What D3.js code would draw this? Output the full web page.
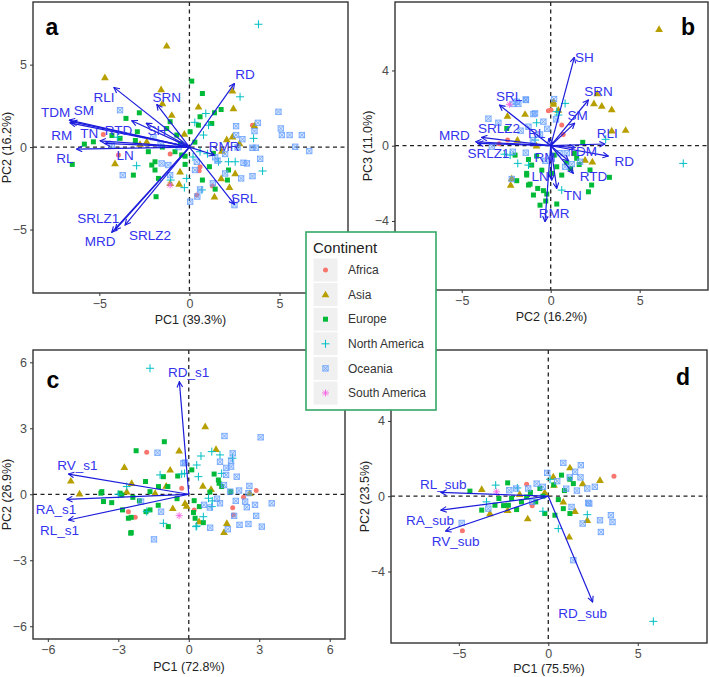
<!DOCTYPE html>
<html>
<head>
<meta charset="utf-8">
<script src="https://cdn.jsdelivr.net/npm/d3@7/dist/d3.min.js"></script>
<style>
body { margin: 0; background: #fff; }
text { font-family: "Liberation Sans", Arial, sans-serif; }
</style>
</head>
<body>
<svg id="fig" width="709" height="677"></svg>
<script>
// continents and their ggplot colours
var continents = ['Africa', 'Asia', 'Europe', 'North America', 'Oceania', 'South America'];
var contColors = ['#F8766D', '#B79F00', '#00BA38', '#00BFC4', '#619CFF', '#F564E3'];

// ---- panel a : PC1 vs PC2 ----
var aAfrica = [[-4.78,0.77],[-3.94,-0.48],[-1.07,-0.42],[0.54,-1.43],[0.41,-2.91],[1.28,-2.36],[3.5,1.33],[0.59,-1.19]];
var aAsia = [[-1.26,6.14],[-4.69,4.22],[-1.57,3.49],[-1.5,2.65],[-0.98,1.94],[0.5,2.44],[2.39,3.41],[2.44,2.34],[-0.28,0.79],[-4.13,-0.99],[-0.52,-1.49],[-1.07,-2.2],[-0.57,-2.24],[2.07,0.46],[2.39,0.63],[1.8,-0.24],[2.54,-1.6],[2.22,-2.44],[3.61,1.29],[1.39,-3.01],[-2.37,0.32],[1.76,-1.9],[2.78,0.22],[-2.74,0.18]];
var aEurope = [[0.13,4.0],[0.72,3.25],[1.76,2.28],[1.39,2.08],[1.24,1.43],[0.59,1.84],[0.5,1.33],[0.04,0.93],[-3.52,1.74],[-2.78,2.08],[-2.89,0.93],[-5.33,0.32],[-5.83,0.18],[-3.85,0.53],[-1.26,1.13],[-1.07,1.54],[-0.7,0.73],[-0.8,-0.28],[-0.43,-0.48],[-1.91,-0.89],[-2.09,-1.09],[-1.91,-1.39],[-3.11,-1.7],[-1.72,-1.9],[-1.85,-3.01],[-6.5,-1.05],[-2.28,-0.28],[1.11,-1.19],[2.17,-1.39],[2.11,-2.0],[1.43,-2.55],[0.72,-2.0],[1.33,-0.38],[-0.24,-0.55],[-0.24,-1.05],[0.3,0.3],[-0.5,0.2],[-4.3,0.7],[-3.0,0.4],[-1.5,0.0]];
var aNorthAm = [[3.83,7.45],[2.81,3.05],[0.91,2.04],[1.06,1.33],[0.78,0.73],[3.56,0.53],[4.06,-1.45],[2.54,-0.89],[2.17,-0.89],[1.61,-0.89],[0.59,-0.28],[-0.15,-1.9],[0.69,-2.6],[-2.93,-1.13],[-1.04,-2.0],[-0.28,-2.46],[0.3,1.5],[0.2,-0.6],[-4.0,0.6],[1.0,-0.4]];
var aOceania = [[-3.85,2.24],[-3.7,-1.7],[-1.17,-1.09],[-1.54,-0.99],[-1.07,-1.7],[-4.31,0.12],[2.59,1.27],[3.8,1.47],[4.94,2.14],[5.07,1.13],[5.13,0.73],[5.56,0.73],[6.24,0.73],[5.87,0.02],[6.65,-0.24],[3.93,-0.71],[3.5,-0.04],[3.69,-0.04],[2.67,-0.02],[2.59,0.73],[2.94,0.48],[3.5,-1.76],[3.0,-0.95],[3.19,-0.99],[1.98,-0.42],[1.3,-2.2],[2.5,-3.52],[0.59,-2.57],[0.04,-3.31],[0.44,-3.0],[0.41,-0.89],[0.31,-1.39],[1.98,-1.6],[2.87,-1.9],[3.61,0.97],[1.43,-0.62],[1.56,-0.82],[-1.6,0.2],[-0.6,0.0],[-2.0,0.6]];
var aSouthAm = [[-1.07,-2.3]];
var aArrowNames = ['RD','RLI','SRN','TDM','SM','RM','TN','RTD','SH','RL','LN','RMR','SRL','SRLZ1','MRD','SRLZ2'];
var aArrowTips = [[2.5,3.86],[-4.19,3.62],[-1.81,2.59],[-6.67,1.64],[-6.54,1.54],[-6.63,1.47],[-4.96,0.38],[-3.2,1.6],[-2.4,1.45],[-6.26,-0.12],[-4.7,0.22],[1.39,-0.48],[2.5,-3.47],[-4.13,-5.03],[-4.31,-5.17],[-3.57,-4.73]];
var aArrowLabels = [[3.09,4.42],[-4.74,3.01],[-1.26,3.05],[-7.43,2.14],[-5.85,2.24],[-7.09,0.73],[-5.56,0.83],[-3.94,1.03],[-1.81,1.03],[-6.91,-0.69],[-3.57,-0.48],[1.93,0.02],[3.04,-3.11],[-5.06,-4.32],[-4.96,-5.74],[-2.19,-5.33]];

// ---- panel b : PC2 vs PC3 ----
var bAfrica = [[0.02,1.9],[0.62,1.1],[-2.42,0.3],[-0.13,1.86],[-2.9,0.1],[0.7,0.6]];
var bAsia = [[6.09,6.19],[2.62,2.78],[2.43,2.25],[2.87,2.11],[3.43,1.93],[4.21,0.83],[3.43,0.8],[-2.43,1.58],[-1.44,1.68],[0.15,2.22],[0.43,1.9],[0.15,2.34],[1.93,-0.76],[2.34,-0.85],[-2.25,-2.09],[-2.19,-1.74],[-1.87,0.3],[-0.8,0.0]];
var bEurope = [[1.8,0.18],[1.46,-0.67],[2.21,-1.29],[3.3,-1.68],[2.3,-2.09],[2.12,-2.45],[-2.0,-0.5],[-1.91,-1.86],[-1.35,-1.56],[-1.07,-1.03],[-1.25,-2.09],[-0.97,-2.62],[-0.41,-2.39],[-0.22,-2.57],[-0.6,-3.16],[0.34,-3.1],[-1.25,-0.73],[-0.79,-0.55],[-1.35,-1.47],[-1.16,-2.04],[-0.73,-2.27],[-0.28,-2.94],[1.12,-1.21],[0.62,-1.56],[1.33,-0.41],[0.06,-1.47],[0.34,-1.12],[-2.47,0.92],[0.9,-0.9],[1.6,-1.0],[-0.5,-1.3],[0.2,-0.5]];
var bNorthAm = [[7.45,-0.94],[-1.85,-0.94],[-2.28,-0.5],[0.62,-2.36],[-0.88,0.3],[-0.79,1.22],[0.34,1.81],[3.09,0.34],[-1.25,-1.03],[0.81,2.25],[0.43,1.63],[-2.6,-0.45]];
var bOceania = [[-1.4,2.46],[-1.82,2.22],[-2.1,2.22],[0.19,2.48],[-3.5,1.44],[-2.94,1.22],[-0.97,1.68],[-0.41,1.28],[-1.25,1.01],[-1.69,0.8],[-2.13,-0.32],[-1.4,-0.37],[0.81,-1.12],[1.18,-0.98],[-2.19,-1.77],[-3.31,-0.05],[-1.91,2.34],[-1.39,2.43],[-0.88,1.72],[1.65,-0.85],[-0.6,0.6],[0.3,1.4],[0.5,-0.4],[-0.3,-0.8],[0.9,-0.4],[-1.0,0.3],[-0.2,0.9]];
var bSouthAm = [[-2.32,2.2]];
var bArrowNames = ['SH','SRN','SM','SRL','SRLZ2','MRD','SRLZ1','RLI','RD','TDM','RTD','TN','RMR','LN','RL','RM'];
var bArrowTips = [[1.33,4.7],[2.12,2.43],[1.35,1.2],[-2.88,2.16],[-3.88,0.44],[-4.21,0.21],[-4.1,0.12],[3.05,0.09],[3.24,-0.55],[1.36,-0.1],[1.27,-1.47],[0.34,-2.27],[-0.32,-4.04],[0.06,-1.83],[-0.1,0.4],[1.0,-0.8]];
var bArrowLabels = [[1.89,4.7],[2.68,2.87],[1.52,1.63],[-2.34,2.61],[-2.9,0.92],[-5.41,0.57],[-3.5,-0.41],[3.18,0.66],[4.14,-0.82],[1.78,-0.27],[2.4,-1.65],[1.24,-2.62],[0.19,-3.6],[-0.6,-1.65],[-0.79,0.66],[-0.32,-0.59]];

// ---- panel c : PC1 vs PC2 (s1) ----
var cAfrica = [[-1.79,1.91],[-0.3,0.27],[-2.57,-0.79],[-2.28,-1.05],[0.23,-0.71],[1.87,-0.61],[1.9,-0.94],[2.87,0.17],[2.33,-0.14]];
var cAsia = [[0.7,3.08],[-0.41,1.98],[1.16,2.05],[-0.79,1.11],[-0.96,0.38],[-2.74,1.23],[-2.43,0.5],[-5.02,0.61],[-4.65,0.02],[0.6,0.38],[0.95,0.23],[-0.16,-0.41],[0.44,-1.24],[1.62,-1.32],[1.5,-1.73],[-2.64,0.12],[-1.43,0.05],[-0.68,-0.64],[-0.09,-0.53],[2.6,0.05]];
var cEurope = [[-1.04,2.39],[-2.24,1.98],[-3.74,0.05],[-3.28,-0.38],[-2.45,-1.05],[-2.45,-1.74],[-1.65,-0.71],[-1.29,0.35],[-1.08,0.8],[-0.47,0.83],[0.23,-0.29],[0.2,-0.83],[0.62,-1.29],[1.08,0.92],[1.29,0.5],[-0.87,-1.47],[-2.85,-0.03],[0.13,1.11],[1.26,0.65],[1.4,0.35],[-1.84,0.58],[-0.89,0.35],[-3.7,0.12],[-2.92,0.05],[-2.38,-0.14],[-1.65,0.12],[-3.63,-0.33],[-2.82,-0.71],[-2.57,-1.09],[-1.82,-0.79],[0.45,-0.56],[1.79,0.12],[0.27,-1.09],[-2.47,-1.77],[-2.1,-0.3],[-0.5,-0.2],[-1.3,-0.5],[0.9,0.1]];
var cNorthAm = [[-1.65,5.73],[0.52,1.74],[0.98,1.94],[1.33,1.79],[1.86,1.64],[0.34,1.33],[0.41,0.8],[-0.3,0.92],[1.4,0.95],[-1.08,-1.32],[-1.79,-0.79],[-2.64,0.35],[0.62,-1.02],[0.34,-1.44],[-0.18,0.95],[-1.22,0.88],[0.84,-0.18],[0.98,-0.56],[0.31,-1.47],[-3.0,0.0],[1.0,-0.3]];
var cOceania = [[1.52,2.65],[3.06,2.59],[-1.33,1.89],[1.33,1.48],[1.8,1.53],[1.8,1.26],[1.59,0.88],[2.04,0.8],[1.5,0.42],[1.76,0.12],[2.58,0.38],[2.54,0.05],[1.33,-0.41],[2.4,-0.33],[2.82,-0.48],[2.87,-0.98],[3.53,-0.41],[3.11,-1.47],[2.54,-1.35],[2.16,-1.39],[1.93,-0.98],[0.91,-1.52],[1.66,-1.59],[-1.48,-2.05],[-1.18,-0.79],[-0.16,1.44],[0.65,-0.48],[1.87,1.86],[2.14,0.17],[2.47,-0.59],[-2.03,-0.33],[-0.23,1.41],[1.2,-0.2],[0.9,-0.6],[2.0,-0.3],[1.6,1.2]];
var cSouthAm = [[-0.41,-0.97]];
var cArrowNames = ['RD_s1','RV_s1','RA_s1','RL_s1'];
var cArrowTips = [[-0.4,5.12],[-5.12,0.92],[-5.19,-0.23],[-5.12,-1.17]];
var cArrowLabels = [[-0.01,5.53],[-4.74,1.33],[-5.65,-0.68],[-5.5,-1.62]];

// ---- panel d : PC1 vs PC2 (sub) ----
var dAfrica = [[3.67,1.06],[-4.8,-1.84],[-1.21,0.64],[-2.36,-0.48],[-0.9,-0.5]];
var dAsia = [[-3.72,0.37],[-3.26,-0.92],[-2.27,-0.74],[-1.15,-1.19],[0.32,0.59],[1.21,1.52],[1.92,0.67],[2.89,0.85],[0.84,-0.3],[1.49,-0.8],[2.18,-1.28],[1.17,-2.16],[0.28,1.03],[-1.6,0.1],[-0.2,0.2]];
var dEurope = [[-4.38,0.27],[-2.27,0.71],[-3.72,-0.74],[-2.76,-0.12],[-2.98,-0.48],[-2.23,-0.48],[-2.05,-0.12],[-1.77,-0.71],[-1.21,-0.04],[-0.47,0.41],[-0.19,-0.92],[0.37,-1.01],[0.56,-0.18],[0.74,1.12],[1.4,0.67],[0.84,-0.66],[1.21,-0.92],[-2.5,-0.5],[-1.0,0.2],[-0.7,-0.3],[0.9,0.3],[0.3,0.6],[-1.5,-0.3],[1.2,0.9],[-0.3,0.0]];
var dNorthAm = [[5.87,-6.65],[-2.94,0.59],[-3.45,-0.3],[-1.73,0.44],[2.18,-0.98],[0.56,-1.72],[-0.3,-0.8],[0.1,0.9]];
var dOceania = [[0.84,1.77],[1.82,1.65],[2.18,0.41],[2.23,-0.35],[2.89,-1.28],[2.94,-1.9],[3.5,-1.01],[3.59,-1.37],[1.92,-1.45],[1.4,-3.4],[-0.06,1.24],[2.29,-0.39],[1.3,-0.57],[-0.65,0.67],[-1.12,0.41],[-1.8,0.41],[-2.18,0.32],[-3.35,-0.66],[-4.84,-1.42],[1.5,1.3],[1.2,1.0],[0.5,0.8],[1.8,1.0],[1.0,0.4],[1.6,0.3],[-0.9,-0.3],[-0.3,0.5],[2.6,0.5]];
var dSouthAm = [[-2.89,0.23]];
var dArrowNames = ['RL_sub','RA_sub','RV_sub','RD_sub'];
var dArrowTips = [[-6.0,0.2],[-6.0,-0.74],[-5.74,-1.86],[2.48,-5.62]];
var dArrowLabels = [[-5.87,0.64],[-6.61,-1.28],[-5.18,-2.39],[1.92,-6.21]];

// axis titles and ticks
var xTitles = ['PC1 (39.3%)', 'PC2 (16.2%)', 'PC1 (72.8%)', 'PC1 (75.5%)'];
var yTitles = ['PC2 (16.2%)', 'PC3 (11.0%)', 'PC2 (26.9%)', 'PC2 (23.5%)'];
var xTicks = [[-5, 0, 5], [-5, 0, 5], [-6, -3, 0, 3, 6], [-5, 0, 5]];
var yTicks = [[-5, 0, 5], [-4, 0, 4], [-6, -3, 0, 3, 6], [-4, 0, 4]];
var xDomains = [[-8.68, 8.8], [-8.75, 8.84], [-6.63, 6.65], [-8.79, 8.87]];
var yDomains = [[-8.85, 8.8], [-7.67, 7.64], [-6.58, 6.56], [-7.8, 7.77]];
var panelLetters = ['a', 'b', 'c', 'd'];

var arrowColor = '#1c1cdc';
var labelColor = '#3333ee';

window.onload = function() {
    render();
};

function render() {
    var svg = d3.select('#fig');
    var defs = svg.append('defs');
    defs.append('marker')
        .attr('id', 'head')
        .attr('viewBox', '0 0 10 10')
        .attr('refX', 9)
        .attr('refY', 5)
        .attr('markerWidth', 7)
        .attr('markerHeight', 7)
        .attr('markerUnits', 'userSpaceOnUse')
        .attr('orient', 'auto')
        .append('path')
        .attr('d', 'M1,1 L9,5 L1,9')
        .style('fill', 'none')
        .style('stroke', arrowColor)
        .style('stroke-width', 1.6);

    // panel boxes in pixels
    var boxes = [
        {x0: 33, x1: 348, y0: 2, y1: 293, titleX: 7, letterX: 52, letterY: 35, xTickY: 310, xTitleY: 324},
        {x0: 395, x1: 708, y0: 2, y1: 290, titleX: 368, letterX: 688, letterY: 35, xTickY: 307, xTitleY: 321},
        {x0: 33, x1: 345, y0: 350, y1: 639, titleX: 7, letterX: 53, letterY: 388, xTickY: 656, xTitleY: 671},
        {x0: 391, x1: 707, y0: 350, y1: 643, titleX: 365, letterX: 683, letterY: 385, xTickY: 659, xTitleY: 673}
    ];

    var pts = [
        [aAfrica, aAsia, aEurope, aNorthAm, aOceania, aSouthAm],
        [bAfrica, bAsia, bEurope, bNorthAm, bOceania, bSouthAm],
        [cAfrica, cAsia, cEurope, cNorthAm, cOceania, cSouthAm],
        [dAfrica, dAsia, dEurope, dNorthAm, dOceania, dSouthAm]
    ];
    var arrows = [
        [aArrowNames, aArrowTips, aArrowLabels],
        [bArrowNames, bArrowTips, bArrowLabels],
        [cArrowNames, cArrowTips, cArrowLabels],
        [dArrowNames, dArrowTips, dArrowLabels]
    ];

    for (var i = 0; i < 4; i++) {
        drawPanel(svg, i, boxes[i], pts[i], arrows[i]);
    }
    drawLegend(svg);
}

function drawPanel(svg, i, box, groups, arr) {
    var x = d3.scaleLinear().domain(xDomains[i]).range([box.x0, box.x1]);
    var y = d3.scaleLinear().domain(yDomains[i]).range([box.y1, box.y0]);
    var g = svg.append('g');

    svg.select('defs').append('clipPath')
        .attr('id', 'clip' + i)
        .append('rect')
        .attr('x', box.x0).attr('y', box.y0)
        .attr('width', box.x1 - box.x0).attr('height', box.y1 - box.y0);

    var inner = g.append('g').attr('clip-path', 'url(#clip' + i + ')');

    // dashed zero lines
    inner.append('line')
        .attr('x1', x(0)).attr('x2', x(0))
        .attr('y1', box.y0).attr('y2', box.y1)
        .style('stroke', '#222').style('stroke-width', 1.3).style('stroke-dasharray', '4,3.5');
    inner.append('line')
        .attr('x1', box.x0).attr('x2', box.x1)
        .attr('y1', y(0)).attr('y2', y(0))
        .style('stroke', '#222').style('stroke-width', 1.3).style('stroke-dasharray', '4,3.5');

    // points, one continent at a time
    for (var c = 0; c < groups.length; c++) {
        for (var k = 0; k < groups[c].length; k++) {
            drawPoint(inner, c, x(groups[c][k][0]), y(groups[c][k][1]));
        }
    }

    // loading arrows
    var names = arr[0], tips = arr[1], labs = arr[2];
    inner.selectAll('line.arrow')
        .data(tips)
        .enter().append('line')
        .attr('class', 'arrow')
        .attr('x1', x(0)).attr('y1', y(0))
        .attr('x2', function(d) { return x(d[0]); })
        .attr('y2', function(d) { return y(d[1]); })
        .attr('marker-end', 'url(#head)')
        .style('stroke', arrowColor)
        .style('stroke-width', 1.2);

    inner.selectAll('text.varname')
        .data(labs)
        .enter().append('text')
        .attr('class', 'varname')
        .attr('x', function(d) { return x(d[0]); })
        .attr('y', function(d) { return y(d[1]); })
        .attr('dy', '0.35em')
        .style('text-anchor', 'middle')
        .style('font-size', '13.5px')
        .style('fill', labelColor)
        .text(function(d, j) { return names[j]; });

    // border
    g.append('rect')
        .attr('x', box.x0).attr('y', box.y0)
        .attr('width', box.x1 - box.x0).attr('height', box.y1 - box.y0)
        .style('fill', 'none')
        .style('stroke', '#333')
        .style('stroke-width', 1.4);

    // axes
    var xAxis = g.append('g')
        .attr('transform', 'translate(0,' + box.y1 + ')')
        .call(d3.axisBottom(x).tickValues(xTicks[i]).tickSize(3).tickPadding(3));
    var yAxis = g.append('g')
        .attr('transform', 'translate(' + box.x0 + ',0)')
        .call(d3.axisLeft(y).tickValues(yTicks[i]).tickSize(3).tickPadding(3));
    [xAxis, yAxis].forEach(function(ax) {
        ax.select('.domain').remove();
        ax.selectAll('line').style('stroke', '#333');
        ax.selectAll('text')
            .style('font-size', '12.5px')
            .style('fill', '#4d4d4d')
            .style('font-family', '"Liberation Sans", Arial, sans-serif');
    });

    g.append('text')
        .attr('x', (box.x0 + box.x1) / 2)
        .attr('y', box.xTitleY)
        .style('text-anchor', 'middle')
        .style('font-size', '12.5px')
        .style('fill', '#222')
        .text(xTitles[i]);
    g.append('text')
        .attr('transform', 'translate(' + box.titleX + ',' + ((box.y0 + box.y1) / 2) + ') rotate(-90)')
        .attr('dy', '0.35em')
        .style('text-anchor', 'middle')
        .style('font-size', '12.5px')
        .style('fill', '#222')
        .text(yTitles[i]);

    g.append('text')
        .attr('x', box.letterX)
        .attr('y', box.letterY)
        .style('text-anchor', 'middle')
        .style('font-size', '23px')
        .style('font-weight', 'bold')
        .style('fill', '#000')
        .text(panelLetters[i]);
}

function drawPoint(parent, c, px, py) {
    var col = contColors[c];
    if (c === 0) {
        parent.append('circle')
            .attr('cx', px).attr('cy', py).attr('r', 2.5)
            .style('fill', col);
    } else if (c === 1) {
        parent.append('path')
            .attr('d', d3.symbol().type(d3.symbolTriangle).size(26)())
            .attr('transform', 'translate(' + px + ',' + (py + 0.5) + ')')
            .style('fill', col);
    } else if (c === 2) {
        parent.append('rect')
            .attr('x', px - 2.5).attr('y', py - 2.5)
            .attr('width', 5).attr('height', 5)
            .style('fill', col);
    } else if (c === 3) {
        parent.append('path')
            .attr('d', 'M' + (px - 4) + ',' + py + 'H' + (px + 4) + 'M' + px + ',' + (py - 4) + 'V' + (py + 4))
            .style('stroke', col).style('stroke-width', 1).style('fill', 'none');
    } else if (c === 4) {
        var s = 2.7;
        parent.append('rect')
            .attr('x', px - s).attr('y', py - s)
            .attr('width', 2 * s).attr('height', 2 * s)
            .style('fill', col).style('fill-opacity', 0.25)
            .style('stroke', col).style('stroke-width', 0.9).style('stroke-opacity', 0.85);
        parent.append('path')
            .attr('d', 'M' + (px - s) + ',' + (py - s) + 'L' + (px + s) + ',' + (py + s) +
                'M' + (px - s) + ',' + (py + s) + 'L' + (px + s) + ',' + (py - s))
            .style('stroke', col).style('stroke-width', 0.8).style('stroke-opacity', 0.85);
    } else {
        var r = 3.5, q = 2.5;
        parent.append('path')
            .attr('d', 'M' + (px - r) + ',' + py + 'H' + (px + r) + 'M' + px + ',' + (py - r) + 'V' + (py + r) +
                'M' + (px - q) + ',' + (py - q) + 'L' + (px + q) + ',' + (py + q) +
                'M' + (px - q) + ',' + (py + q) + 'L' + (px + q) + ',' + (py - q))
            .style('stroke', col).style('stroke-width', 0.9).style('fill', 'none');
    }
}

function drawLegend(svg) {
    var lg = svg.append('g');
    lg.append('rect')
        .attr('x', 306).attr('y', 232)
        .attr('width', 130).attr('height', 178)
        .style('fill', '#fff')
        .style('stroke', '#35a865')
        .style('stroke-width', 1.6);
    lg.append('text')
        .attr('x', 313).attr('y', 253)
        .style('font-size', '15px')
        .style('fill', '#222')
        .text('Continent');

    var rowY = d3.scaleLinear().domain([0, 5]).range([270, 393]);
    for (var c = 0; c < continents.length; c++) {
        var cy = rowY(c);
        lg.append('rect')
            .attr('x', 313).attr('y', cy - 12)
            .attr('width', 25).attr('height', 24)
            .style('fill', '#f0f0f0')
            .style('stroke', '#fff')
            .style('stroke-width', 1);
        drawPoint(lg, c, 325.5, cy);
        lg.append('text')
            .attr('x', 348).attr('y', cy)
            .attr('dy', '0.35em')
            .style('font-size', '12px')
            .style('fill', '#333')
            .text(continents[c]);
    }
}
</script>
</body>
</html>
